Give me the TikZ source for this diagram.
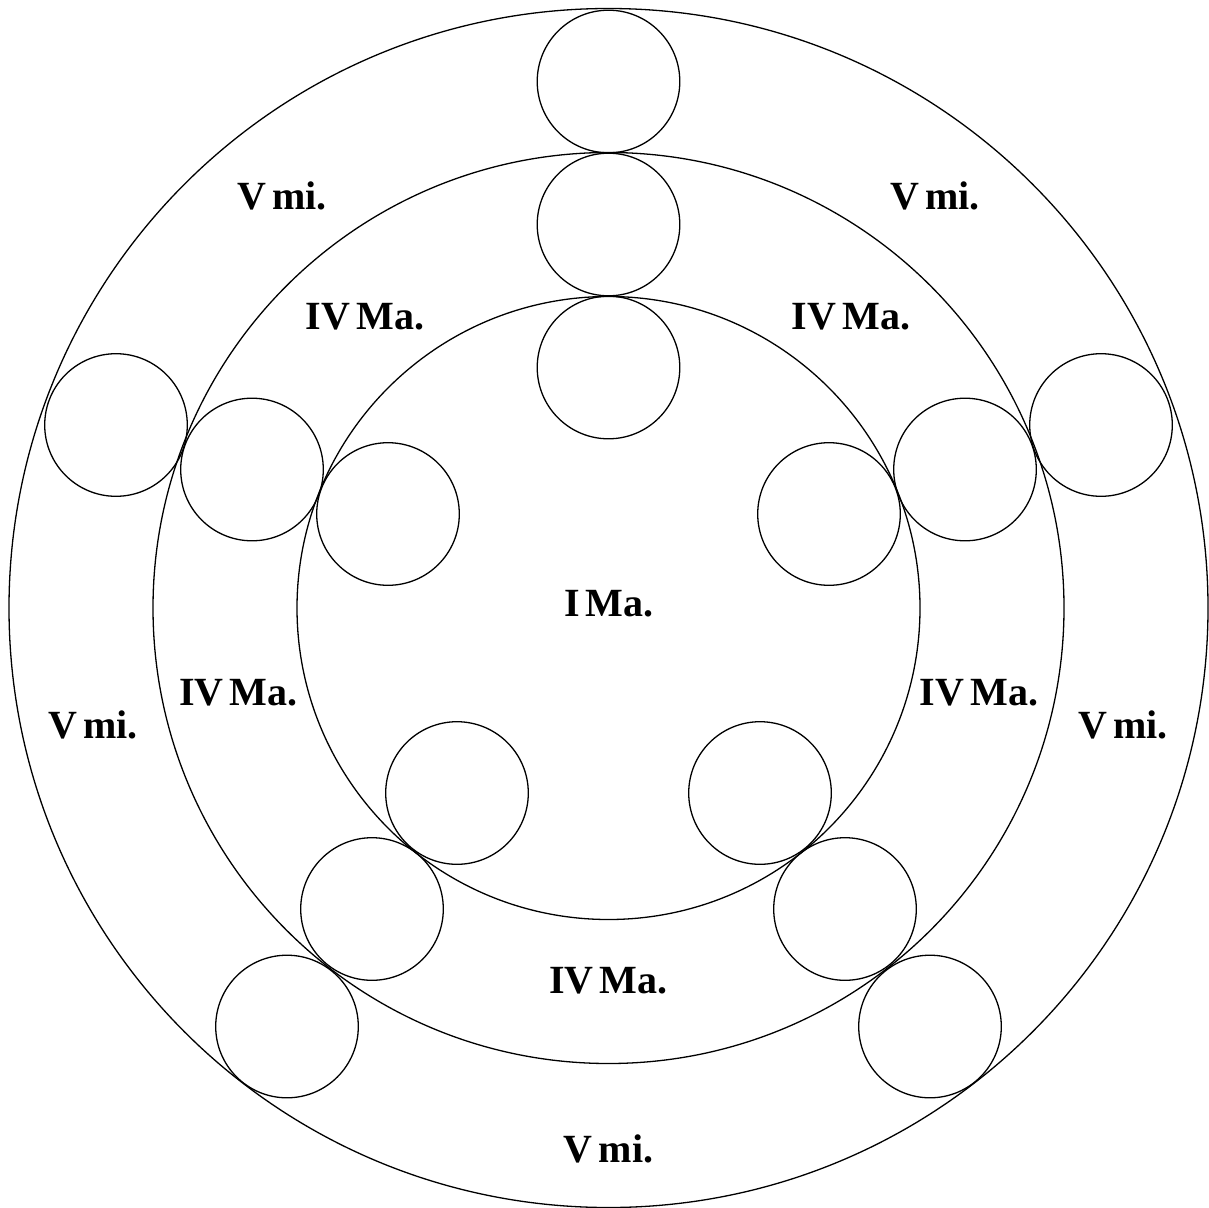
\documentclass[tikz,border=0pt]{standalone}
\usepackage{fontspec}
\setmainfont{Liberation Serif}[WordSpace=0.6]
\begin{document}
\begin{tikzpicture}[x=1pt,y=-1pt,
  ring/.style={draw=black,line width=1.3pt},
  ball/.style={draw=black,line width=1.3pt},
  lab/.style={anchor=base,inner sep=0pt,font=\fontsize{40}{46}\selectfont\bfseries}]
\useasboundingbox (0,0) rectangle (1209,1207);
% rings
\coordinate (O) at (608.5,608);
\draw[ring] (O) circle (599.5pt);
\draw[ring] (O) circle (455.5pt);
\draw[ring] (O) circle (311.5pt);
% top arm
\draw[ball] (608.5,81.5) circle (71.3pt);
\draw[ball] (608.5,224.5) circle (71.3pt);
\draw[ball] (608.5,367.5) circle (71.3pt);
% right arm
\draw[ball] (1101,425) circle (71.3pt);
\draw[ball] (965,469.5) circle (71.3pt);
\draw[ball] (829,514) circle (71.3pt);
% left arm
\draw[ball] (116,425) circle (71.3pt);
\draw[ball] (252,469.5) circle (71.3pt);
\draw[ball] (388,514) circle (71.3pt);
% bottom-left arm
\draw[ball] (457,793) circle (71.3pt);
\draw[ball] (372,909) circle (71.3pt);
\draw[ball] (287,1026.5) circle (71.3pt);
% bottom-right arm
\draw[ball] (760,793) circle (71.3pt);
\draw[ball] (845,909) circle (71.3pt);
\draw[ball] (930,1026.5) circle (71.3pt);
% labels
\node[lab] (v1) at (282,209.3) {V mi.};
\node[lab] (v2) at (935,209.3) {V mi.};
\node[lab] (v3) at (93,738.3) {V mi.};
\node[lab] (v4) at (1123,738.3) {V mi.};
\node[lab] (v5) at (608.5,1162.7) {V mi.};
\node[lab] (iv1) at (365,329.3) {IV Ma.};
\node[lab] (iv2) at (851,329.3) {IV Ma.};
\node[lab] (iv3) at (238.5,705.7) {IV Ma.};
\node[lab] (iv4) at (979,705.7) {IV Ma.};
\node[lab] (iv5) at (608.5,993.3) {IV Ma.};
\node[lab] (i1) at (609,616.7) {I Ma.};
\end{tikzpicture}
\end{document}
